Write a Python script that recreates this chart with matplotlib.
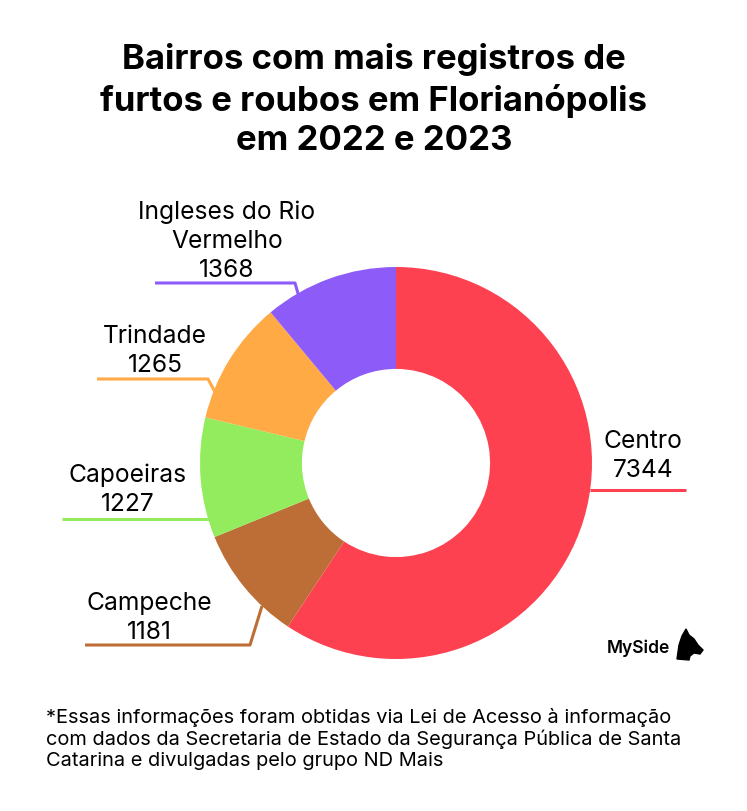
import matplotlib
matplotlib.use("Agg")
import matplotlib.pyplot as plt
from matplotlib.patches import Polygon

categories = ["Centro", "Campeche", "Capoeiras", "Trindade", "Ingleses do Rio\nVermelho"]
values = [7344, 1181, 1227, 1265, 1368]
colors = ["#FD4150", "#BD6E36", "#93EC5E", "#FFAA45", "#8D5BF7"]

title = "Bairros com mais registros de\nfurtos e roubos em Florianópolis\nem 2022 e 2023"
footnote = ("*Essas informações foram obtidas via Lei de Acesso à informação\n"
            "com dados da Secretaria de Estado da Segurança Pública de Santa\n"
            "Catarina e divulgadas pelo grupo ND Mais")

W, H = 747, 812
plt.rcParams['font.family'] = ['Inter', 'DejaVu Sans']
fig = plt.figure(figsize=(W / 100, H / 100), dpi=100)
fig.patch.set_facecolor("white")

# pie axes
cx, cy, R = 396, 464, 196
ax = fig.add_axes([(cx - R) / W, (H - cy - R) / H, 2 * R / W, 2 * R / H])
ax.pie(values, colors=colors, startangle=90, counterclock=False, radius=1,
       wedgeprops=dict(width=0.52, edgecolor="none"))
ax.set_xlim(-1, 1)
ax.set_ylim(-1, 1)
ax.set_aspect("auto")
ax.axis("off")

# overlay axes in pixel coordinates
ov = fig.add_axes([0, 0, 1, 1], zorder=5)
ov.set_xlim(0, W)
ov.set_ylim(H, 0)
ov.axis("off")
ov.patch.set_alpha(0)

ov.text(374, 100, title, ha="center", va="center", fontsize=25, fontweight="bold",
        linespacing=1.28, color="black")

# labels: (text x, text center y, line points)
label_layout = [
    (643, 456, [(590, 491), (686, 491)]),
    (149, 618, [(262, 607), (250, 646), (85, 646)]),
    (128, 490, [(212, 520), (62, 520)]),
    (155, 351, [(215, 393), (208, 380), (97, 380)]),
    (227, 241, [(299, 298), (295, 284), (155, 284)]),
]
for (name, val, col, (tx, ty, pts)) in zip(categories, values, colors, label_layout):
    ov.text(tx, ty, f"{name}\n{val}", ha="center", va="center", fontsize=17.7,
            linespacing=1.32, color="black")
    xs, ys = zip(*pts)
    ov.plot(xs, ys, color=col, lw=2.2, solid_capstyle="butt")

ov.text(46, 739, footnote, ha="left", va="center", fontsize=14.4, linespacing=1.17,
        color="black")

# logo
ov.text(607, 648, "MySide", ha="left", va="center", fontsize=12.5, fontweight="semibold",
        color="black")
dog = [(677, 660), (679, 646), (682, 637), (686, 630), (689, 636), (694, 640),
       (698, 646), (703, 651), (700, 655), (694, 654), (690, 657), (689, 661)]
ov.add_patch(Polygon(dog, closed=True, color="black"))

fig.savefig("out.png", dpi=100, facecolor="white")
